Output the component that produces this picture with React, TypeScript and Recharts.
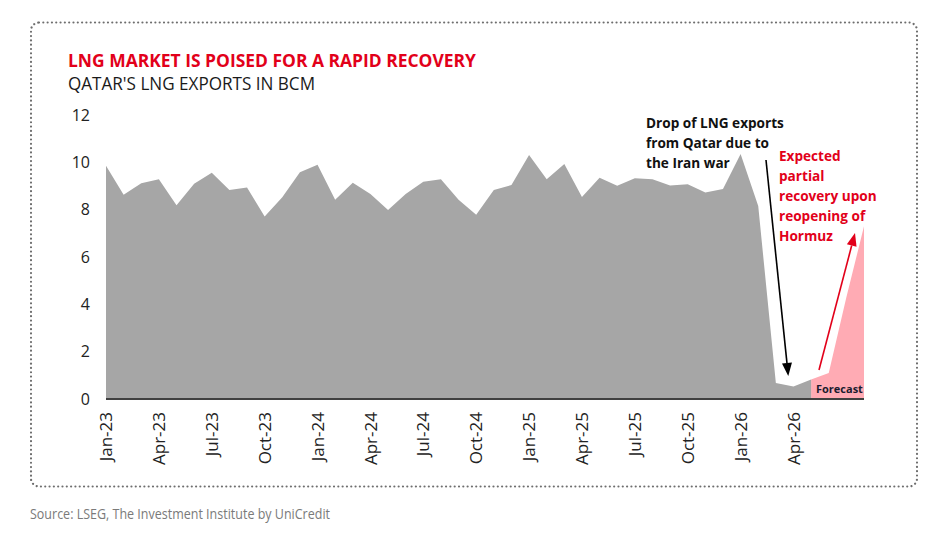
import React from "react";
import { AreaChart, Area, XAxis, YAxis } from "recharts";

const MONTHS = [
  "Jan-23", "Feb-23", "Mar-23", "Apr-23", "May-23", "Jun-23", "Jul-23", "Aug-23", "Sep-23", "Oct-23", "Nov-23", "Dec-23",
  "Jan-24", "Feb-24", "Mar-24", "Apr-24", "May-24", "Jun-24", "Jul-24", "Aug-24", "Sep-24", "Oct-24", "Nov-24", "Dec-24",
  "Jan-25", "Feb-25", "Mar-25", "Apr-25", "May-25", "Jun-25", "Jul-25", "Aug-25", "Sep-25", "Oct-25", "Nov-25", "Dec-25",
  "Jan-26", "Feb-26", "Mar-26", "Apr-26", "May-26", "Jun-26", "Jul-26", "Aug-26",
];

// actual exports, bcm (null where forecast takes over)
const ACTUAL = [
  9.86, 8.63, 9.12, 9.29, 8.19, 9.09, 9.56, 8.83, 8.94, 7.71, 8.52, 9.58,
  9.9, 8.42, 9.14, 8.66, 7.99, 8.66, 9.18, 9.29, 8.42, 7.78, 8.83, 9.04,
  10.31, 9.29, 9.93, 8.54, 9.35, 9.01, 9.33, 9.29, 9.02, 9.07, 8.73, 8.87,
  10.35, 8.15, 0.68, 0.53, 0.82, null, null, null,
];

const FORECAST = [
  null, null, null, null, null, null, null, null, null, null, null, null,
  null, null, null, null, null, null, null, null, null, null, null, null,
  null, null, null, null, null, null, null, null, null, null, null, null,
  null, null, null, null, 0.82, 1.1, 4.3, 7.3,
];

const X_TICKS = [
  "Jan-23", "Apr-23", "Jul-23", "Oct-23", "Jan-24", "Apr-24", "Jul-24",
  "Oct-24", "Jan-25", "Apr-25", "Jul-25", "Oct-25", "Jan-26", "Apr-26",
];
const Y_TICKS = [0, 2, 4, 6, 8, 10, 12];

const DROP_NOTE = ["Drop of LNG exports", "from Qatar due to", "the Iran war"];
const RECOVERY_NOTE = ["Expected", "partial", "recovery upon", "reopening of", "Hormuz"];

const data = MONTHS.map((m, i) => ({ month: m, actual: ACTUAL[i], forecast: FORECAST[i] }));

const RED = "#E2001A";
const FONT = "'Open Sans', 'Noto Sans', sans-serif";

function MonthTick(props: any) {
  const { x, y, payload } = props;
  return (
    <text
      x={x}
      y={y + 13}
      transform={`rotate(-90 ${x} ${y + 13})`}
      textAnchor="end"
      dy="0.36em"
      fontSize={17}
      fontFamily={FONT}
      fill="#222"
    >
      {payload.value}
    </text>
  );
}

function Arrow({ x1, y1, x2, y2, color }: { x1: number; y1: number; x2: number; y2: number; color: string }) {
  const dx = x2 - x1;
  const dy = y2 - y1;
  const len = Math.sqrt(dx * dx + dy * dy);
  const ux = dx / len;
  const uy = dy / len;
  const head = 13;
  const half = 5;
  const bx = x2 - ux * head;
  const by = y2 - uy * head;
  const pts = `${x2},${y2} ${bx - uy * half},${by + ux * half} ${bx + uy * half},${by - ux * half}`;
  return (
    <g>
      <line x1={x1} y1={y1} x2={bx} y2={by} stroke={color} strokeWidth={1.6} />
      <polygon points={pts} fill={color} />
    </g>
  );
}

export default function App() {
  return (
    <div style={{ position: "absolute", left: 0, top: 0, width: 948, height: 540, background: "#fff" }}>
      <AreaChart
        width={948}
        height={540}
        data={data}
        margin={{ top: 115, right: 84, bottom: 81, left: 0 }}
      >
        <XAxis
          dataKey="month"
          ticks={X_TICKS}
          interval={0}
          height={60}
          tickLine={false}
          tickSize={0}
          tickMargin={0}
          axisLine={{ stroke: "#404040", strokeWidth: 2 }}
          tick={<MonthTick />}
        />
        <YAxis
          domain={[0, 12]}
          ticks={Y_TICKS}
          width={106}
          axisLine={false}
          tickLine={false}
          tickSize={0}
          tickMargin={16}
          tick={{ fontSize: 16, fontFamily: FONT, fill: "#222" }}
        />
        <Area
          type="linear"
          dataKey="forecast"
          stroke="none"
          fill="#FFABB4"
          fillOpacity={1}
          isAnimationActive={false}
        />
        <Area
          type="linear"
          dataKey="actual"
          stroke="none"
          fill="#A6A6A6"
          fillOpacity={1}
          isAnimationActive={false}
        />
      </AreaChart>

      <svg
        width={948}
        height={540}
        style={{ position: "absolute", left: 0, top: 0, pointerEvents: "none" }}
      >
        <rect
          x={31}
          y={22.5}
          width={886}
          height={464}
          rx={8}
          fill="none"
          stroke="#6e6e6e"
          strokeWidth={2.2}
          strokeDasharray="0.01 4.3"
          strokeLinecap="round"
        />
        <text x={68} y={67} fontFamily={FONT} fontWeight={700} fontSize={18} fill={RED} textLength={408} lengthAdjust="spacingAndGlyphs">
          LNG MARKET IS POISED FOR A RAPID RECOVERY
        </text>
        <text x={68} y={90} fontFamily={FONT} fontSize={18} fill="#1a1a1a" textLength={247} lengthAdjust="spacingAndGlyphs">
          QATAR'S LNG EXPORTS IN BCM
        </text>

        {DROP_NOTE.map((t, i) => (
          <text key={t} x={646} y={128 + i * 20} fontFamily={FONT} fontWeight={700} fontSize={13.6} fill="#111">
            {t}
          </text>
        ))}
        {RECOVERY_NOTE.map((t, i) => (
          <text key={t} x={779} y={161 + i * 20} fontFamily={FONT} fontWeight={700} fontSize={13.6} fill={RED}>
            {t}
          </text>
        ))}
        <Arrow x1={766} y1={160} x2={788.3} y2={376} color="#000" />
        <Arrow x1={819} y1={370} x2={855} y2={233} color={RED} />
        <text x={816} y={393} fontFamily={FONT} fontWeight={700} fontSize={11} fill="#1b1b2f">
          Forecast
        </text>

        <text x={30} y={519} fontFamily={FONT} fontSize={14.5} fill="#7a7a7a" textLength={300} lengthAdjust="spacingAndGlyphs">
          Source: LSEG, The Investment Institute by UniCredit
        </text>
      </svg>
    </div>
  );
}
